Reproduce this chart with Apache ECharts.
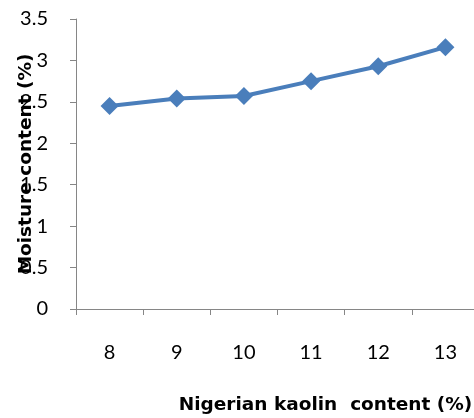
<!DOCTYPE html>
<html><head><meta charset="utf-8">
<script src="https://cdn.jsdelivr.net/npm/echarts@6/dist/echarts.min.js"></script>
<style>html,body{margin:0;padding:0;background:#fff}#c{width:474px;height:418px}</style>
</head><body><div id="c"></div>
<script>
const categories = ['8','9','10','11','12','13'];
const moisture = [2.45, 2.54, 2.57, 2.75, 2.93, 3.16];
const yTicks = [0, 0.5, 1, 1.5, 2, 2.5, 3, 3.5];

const chart = echarts.init(document.getElementById('c'));
const font = 'Lato, "Open Sans", sans-serif';
const titleFont = '"DejaVu Sans", sans-serif';
chart.setOption({
  animation: false,
  grid: {left: 76, right: -5, top: 19, bottom: 109, containLabel: false, outerBoundsMode: 'none'},
  xAxis: {
    type: 'category', data: categories, boundaryGap: true,
    axisLine: {lineStyle: {color: '#868686', width: 1}},
    axisTick: {show: true, length: 6, lineStyle: {color: '#868686'}},
    axisLabel: {margin: 34, color: '#000', fontSize: 20, fontFamily: font},
    name: 'Nigerian kaolin  content (%)', nameLocation: 'middle', nameGap: 87, nameMoveOverlap: false,
    nameTextStyle: {fontWeight: 'bold', fontSize: 18.5, color: '#000', fontFamily: titleFont, padding: [0,0,0,96]}
  },
  yAxis: {
    type: 'value', min: 0, max: 3.5, interval: 0.5,
    splitLine: {show: false},
    axisLine: {show: true, lineStyle: {color: '#868686', width: 1}},
    axisTick: {show: true, length: 6, lineStyle: {color: '#868686'}},
    axisLabel: {margin: 28, color: '#000', fontSize: 20, fontFamily: font,
      formatter: v => yTicks.includes(v) ? String(v) : ''},
    name: 'Moisture content (%)', nameLocation: 'middle', nameGap: 40, nameRotate: 90, nameMoveOverlap: false,
    nameTextStyle: {fontWeight: 'bold', fontSize: 18.5, color: '#000', fontFamily: titleFont}
  },
  series: [{
    type: 'line', data: moisture,
    symbol: 'diamond', symbolSize: 18,
    lineStyle: {color: '#4A7EBB', width: 4},
    itemStyle: {color: '#4A7EBB'}
  }]
});
</script></body></html>
